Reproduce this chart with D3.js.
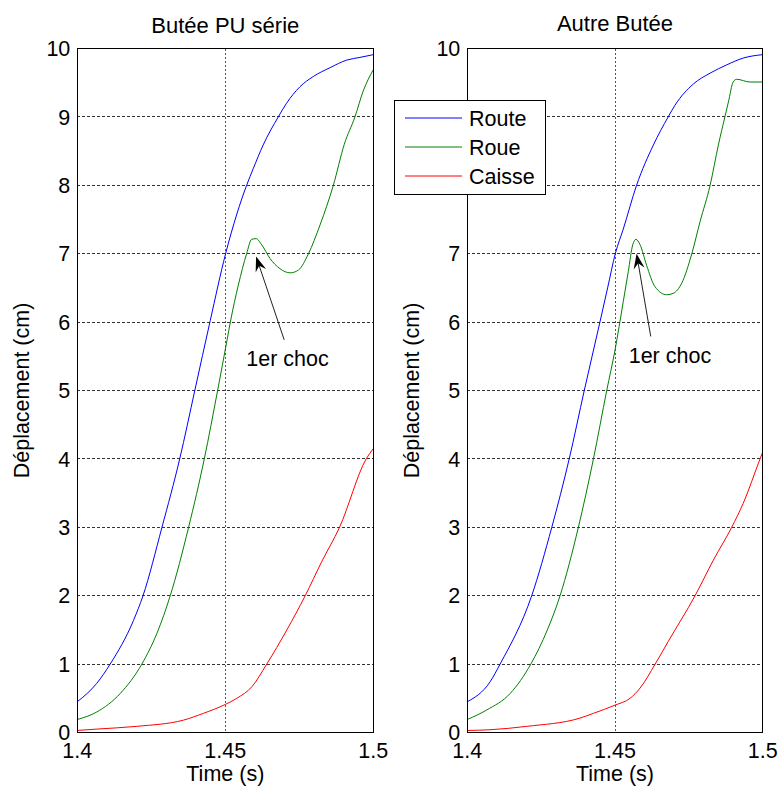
<!DOCTYPE html>
<html>
<head>
<meta charset="utf-8">
<script src="https://cdn.jsdelivr.net/npm/d3@7"></script>
<style>
  body { margin: 0; background: #fff; }
  text { font-family: Arial, "Liberation Sans", sans-serif; fill: #000; }
</style>
</head>
<body>
<div id="chart"></div>
<script>
// ---- data ----
const timeTicks = [1.4, 1.45, 1.5];
const depTicks = [0, 1, 2, 3, 4, 5, 6, 7, 8, 9, 10];
const seriesNames = ["Route", "Roue", "Caisse"];
const seriesColors = ["#0000ff", "#008000", "#ff0000"];
const panelTitles = ["Butée PU série", "Autre Butée"];

// panel 1 : Butée PU série  [time, cm]
const routeA = [[1.4, 0.45], [1.4066, 0.72], [1.4111, 1.0], [1.4190, 1.64], [1.4222, 2.0], [1.4286, 3.0],
  [1.4346, 4.0], [1.4397, 5.0], [1.4449, 6.02], [1.4501, 7.0], [1.4539, 7.58], [1.4572, 8.0],
  [1.4595, 8.25], [1.4628, 8.59], [1.4679, 9.0], [1.4707, 9.20], [1.4752, 9.44], [1.4797, 9.59],
  [1.4854, 9.72], [1.4910, 9.83], [1.4955, 9.87], [1.5, 9.91]];
const roueA = [[1.4, 0.19], [1.4066, 0.30], [1.4145, 0.57], [1.4218, 1.0], [1.4269, 1.45], [1.4314, 2.0],
  [1.4376, 3.0], [1.4429, 4.0], [1.4474, 5.0], [1.4506, 5.74], [1.4517, 6.0], [1.4544, 6.54],
  [1.4572, 7.0], [1.4589, 7.21], [1.4604, 7.22], [1.4623, 7.13], [1.4651, 6.93], [1.4685, 6.78],
  [1.4719, 6.72], [1.4747, 6.76], [1.4781, 7.0], [1.4820, 7.42], [1.4865, 8.0], [1.4902, 8.60],
  [1.4938, 9.0], [1.4966, 9.38], [1.5, 9.69]];
const caisseA = [[1.4, 0.03], [1.4066, 0.05], [1.4201, 0.09], [1.4358, 0.18], [1.4426, 0.28], [1.45, 0.41],
  [1.4539, 0.50], [1.4590, 0.67], [1.4640, 1.0], [1.4708, 1.50], [1.4770, 2.0], [1.4826, 2.50],
  [1.4886, 3.0], [1.4976, 4.0], [1.5, 4.15]];

// panel 2 : Autre Butée
const routeB = [[1.4, 0.45], [1.4077, 0.74], [1.4111, 1.0], [1.4218, 2.0], [1.4286, 3.0], [1.4345, 4.0],
  [1.4396, 5.0], [1.4449, 6.0], [1.4475, 6.5], [1.4501, 7.0], [1.4528, 7.36], [1.4573, 8.0],
  [1.4630, 8.59], [1.4680, 9.0], [1.4703, 9.17], [1.4765, 9.48], [1.4822, 9.64], [1.4878, 9.76],
  [1.4934, 9.86], [1.5, 9.91]];
const roueB = [[1.4, 0.19], [1.4066, 0.33], [1.4145, 0.57], [1.4215, 1.0], [1.4271, 1.50], [1.4314, 2.0],
  [1.4376, 3.0], [1.4427, 4.0], [1.4472, 5.0], [1.45, 5.59], [1.4528, 6.30], [1.4545, 6.74],
  [1.4560, 7.13], [1.4571, 7.21], [1.4585, 7.13], [1.4607, 6.83], [1.4635, 6.52], [1.4675, 6.40],
  [1.4697, 6.42], [1.4726, 6.57], [1.4760, 7.0], [1.4788, 7.47], [1.4822, 8.0], [1.4850, 8.59],
  [1.4872, 9.0], [1.4884, 9.22], [1.4900, 9.51], [1.4912, 9.55], [1.4957, 9.51], [1.5, 9.51]];
const caisseB = [[1.4, 0.03], [1.4077, 0.04], [1.4201, 0.09], [1.4381, 0.21], [1.4427, 0.28], [1.45, 0.40],
  [1.4551, 0.50], [1.4585, 0.65], [1.4636, 1.0], [1.4680, 1.33], [1.4771, 2.0], [1.4833, 2.52],
  [1.4895, 3.0], [1.4934, 3.35], [1.4991, 4.0], [1.5, 4.10]];

// annotation "1er choc" : text position, arrow tail, arrow tip
const chocA = { text: [1.4710, 5.36], tail: [1.4699, 5.74], tip: [1.4604, 6.96] };
const chocB = { text: [1.4686, 5.40], tail: [1.4621, 5.79], tip: [1.4573, 7.00] };

// ---- layout ----
const W = 778, H = 790;
const plotTop = 48.5, plotBottom = 732.5;
const fontSize = "21.5px";
const panels = [
  { title: panelTitles[0], left: 77.3, right: 373.3, series: [routeA, roueA, caisseA], choc: chocA, titleY: 33 },
  { title: panelTitles[1], left: 467.3, right: 762.7, series: [routeB, roueB, caisseB], choc: chocB, titleY: 31 }
];

const svg = d3.select("#chart").append("svg")
  .attr("width", W)
  .attr("height", H);

const y = d3.scaleLinear().domain([0, 10]).range([plotBottom, plotTop]);

panels.forEach(p => {
  const x = d3.scaleLinear().domain([1.4, 1.5]).range([p.left, p.right]);
  const g = svg.append("g");

  // grid
  g.selectAll("line.hgrid").data(depTicks).enter().append("line")
    .attr("x1", p.left).attr("x2", p.right)
    .attr("y1", d => y(d)).attr("y2", d => y(d))
    .attr("stroke", "#333").attr("stroke-width", 1)
    .attr("stroke-dasharray", "3,2")
    .attr("shape-rendering", "crispEdges");
  g.selectAll("line.vgrid").data(timeTicks).enter().append("line")
    .attr("x1", d => x(d)).attr("x2", d => x(d))
    .attr("y1", plotTop).attr("y2", plotBottom)
    .attr("stroke", "#555").attr("stroke-width", 1)
    .attr("stroke-dasharray", "2,2")
    .attr("shape-rendering", "crispEdges");

  // series
  const line = d3.line()
    .x(d => x(d[0]))
    .y(d => y(d[1]))
    .curve(d3.curveMonotoneX);
  p.series.forEach((s, i) => {
    g.append("path")
      .attr("d", line(s))
      .attr("fill", "none")
      .attr("stroke", seriesColors[i])
      .attr("stroke-width", 1);
  });

  // box
  g.append("rect")
    .attr("x", p.left).attr("y", plotTop)
    .attr("width", p.right - p.left).attr("height", plotBottom - plotTop)
    .attr("fill", "none").attr("stroke", "#000").attr("stroke-width", 1)
    .attr("shape-rendering", "crispEdges");

  // tick labels
  g.selectAll("text.ytick").data(depTicks).enter().append("text")
    .attr("x", p.left - 7).attr("y", d => y(d))
    .attr("dy", "0.36em")
    .attr("text-anchor", "end")
    .style("font-size", fontSize)
    .text(d => d);
  g.selectAll("text.xtick").data(timeTicks).enter().append("text")
    .attr("x", d => x(d)).attr("y", 758)
    .attr("text-anchor", "middle")
    .style("font-size", fontSize)
    .text(d => d);

  // axis labels + title
  const cx = (p.left + p.right) / 2;
  g.append("text")
    .attr("x", cx).attr("y", 781)
    .attr("text-anchor", "middle")
    .style("font-size", fontSize)
    .text("Time (s)");
  g.append("text")
    .attr("transform", "translate(" + (p.left - 48) + "," + (plotTop + plotBottom) / 2 + ") rotate(-90)")
    .attr("text-anchor", "middle")
    .style("font-size", fontSize)
    .text("Déplacement (cm)");
  g.append("text")
    .attr("x", cx).attr("y", p.titleY)
    .attr("text-anchor", "middle")
    .style("font-size", "22px")
    .text(p.title);

  // annotation arrow
  const tx = x(p.choc.tail[0]), ty = y(p.choc.tail[1]);
  const hx = x(p.choc.tip[0]), hy = y(p.choc.tip[1]);
  const len = Math.hypot(hx - tx, hy - ty);
  const ux = (hx - tx) / len, uy = (hy - ty) / len;
  const nx = -uy, ny = ux;
  const L = 15, Wd = 5.5;
  g.append("line")
    .attr("x1", tx).attr("y1", ty)
    .attr("x2", hx - ux * L * 0.6).attr("y2", hy - uy * L * 0.6)
    .attr("stroke", "#222").attr("stroke-width", 1);
  g.append("path")
    .attr("d", "M" + hx + "," + hy +
      "L" + (hx - ux * L + nx * Wd) + "," + (hy - uy * L + ny * Wd) +
      "L" + (hx - ux * L * 0.65) + "," + (hy - uy * L * 0.65) +
      "L" + (hx - ux * L - nx * Wd) + "," + (hy - uy * L - ny * Wd) + "Z")
    .attr("fill", "#000");
  g.append("text")
    .attr("x", x(p.choc.text[0])).attr("y", y(p.choc.text[1]))
    .attr("text-anchor", "middle")
    .style("font-size", fontSize)
    .text("1er choc");
});

// legend (in the second panel)
const lg = svg.append("g").attr("transform", "translate(394.5,100.5)");
lg.append("rect")
  .attr("width", 151).attr("height", 94)
  .attr("fill", "#fff").attr("stroke", "#000").attr("stroke-width", 1);
seriesNames.forEach((name, i) => {
  const ly = 17.5 + i * 29;
  lg.append("line")
    .attr("x1", 10.5).attr("x2", 67.5)
    .attr("y1", ly).attr("y2", ly)
    .attr("stroke", seriesColors[i]).attr("stroke-width", 1);
  lg.append("text")
    .attr("x", 74.5).attr("y", ly)
    .attr("dy", "0.36em")
    .style("font-size", fontSize)
    .text(name);
});
</script>
</body>
</html>
